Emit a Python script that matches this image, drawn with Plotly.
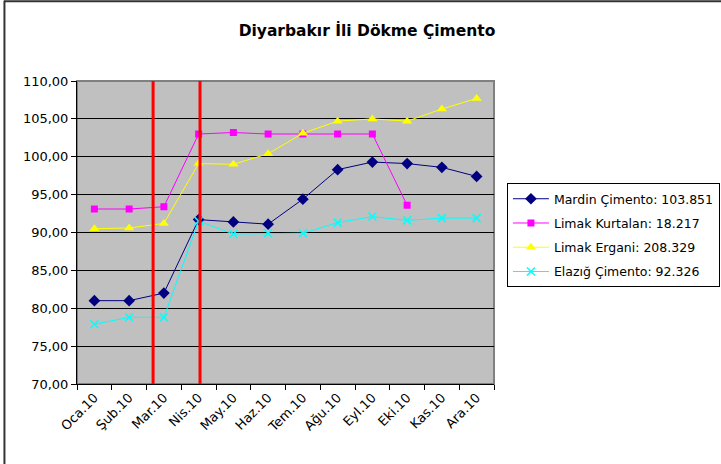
import plotly.graph_objects as go

# months of 2010
months = ["Oca.10", "Şub.10", "Mar.10", "Nis.10", "May.10", "Haz.10",
          "Tem.10", "Ağu.10", "Eyl.10", "Eki.10", "Kas.10", "Ara.10"]

mardin = [81.0, 81.0, 82.0, 91.7, 91.4, 91.1, 94.4, 98.3, 99.3, 99.1, 98.6, 97.4]
kurtalan = [93.1, 93.1, 93.4, 103.0, 103.2, 103.0, 103.0, 103.0, 103.0, 93.6, None, None]
ergani = [90.5, 90.6, 91.2, 99.1, 99.0, 100.4, 103.1, 104.7, 105.0, 104.7, 106.3, 107.7]
elazig = [77.9, 78.8, 78.8, 91.5, 89.8, 89.9, 89.9, 91.3, 92.1, 91.6, 91.9, 91.9]

series_names = ["Mardin Çimento: 103.851", "Limak Kurtalan: 18.217",
                "Limak Ergani: 208.329", "Elazığ Çimento: 92.326"]

# red marker lines (category index positions)
red_lines = [1.69, 3.04]

fig = go.Figure()

styles = [
    (mardin, "#000080", dict(symbol="diamond", size=9, color="#000080")),
    (kurtalan, "#FF00FF", dict(symbol="square", size=7, color="#FF00FF")),
    (ergani, "#FFFF00", dict(symbol="triangle-up", size=9, color="#FFFF00")),
    (elazig, "#00FFFF", dict(symbol="x-thin", size=8, color="#00FFFF",
                             line=dict(color="#00FFFF", width=1.5))),
]
for i, ((vals, col, mk), name) in enumerate(zip(styles, series_names)):
    fig.add_trace(go.Scatter(x=months, y=vals, name=name, mode="lines+markers",
                             legendgroup=str(i),
                             line=dict(color=col, width=1), marker=mk))

for xv in red_lines:
    fig.add_shape(type="line", xref="x", yref="paper", x0=xv, x1=xv, y0=0, y1=1,
                  line=dict(color="#FF0000", width=3), layer="above")

# plot area border
fig.add_shape(type="rect", xref="paper", yref="paper", x0=0, x1=1, y0=0, y1=1,
              line=dict(color="#808080", width=2), layer="below")
# outer frame (top and left)
fig.add_shape(type="line", xref="paper", yref="paper", x0=-0.175, x1=1.6, y0=1.263, y1=1.263,
              line=dict(color="#333333", width=2))
fig.add_shape(type="line", xref="paper", yref="paper", x0=-0.174, x1=-0.174, y0=-0.3, y1=1.265,
              line=dict(color="#333333", width=2))

fig.update_layout(
    width=721, height=464,
    margin=dict(l=77, r=227, t=81, b=80, autoexpand=False),
    paper_bgcolor="white",
    plot_bgcolor="#C0C0C0",
    separators=",.",
    font=dict(family="DejaVu Sans", size=13, color="black"),
    title=dict(text="<b>Diyarbakır İli Dökme Çimento</b>", x=0.509, xanchor="center",
               y=0.935, yanchor="middle", font=dict(size=15.5)),
    legend=dict(x=1.031, y=0.663, xanchor="left", yanchor="top",
                bordercolor="black", borderwidth=1, bgcolor="white",
                font=dict(size=12.5), tracegroupgap=5, itemwidth=36),
    showlegend=True,
)
fig.update_xaxes(type="category", tickangle=-45, tickson="boundaries", ticks="outside",
                 ticklen=5, tickcolor="black", showgrid=False, showline=True,
                 linecolor="black", linewidth=1, range=[-0.5, 11.5])
fig.update_yaxes(range=[70, 110], dtick=5, tickformat=".2f", ticks="outside", ticklen=5,
                 tickcolor="black", showgrid=True, gridcolor="black", gridwidth=1,
                 showline=True, linecolor="black", linewidth=1, zeroline=False)

# page body has a default margin; drop it so the chart sits at the window corner
fig.write_html("out.html", config={"displayModeBar": False},
               post_script="document.body.style.margin='0';")
